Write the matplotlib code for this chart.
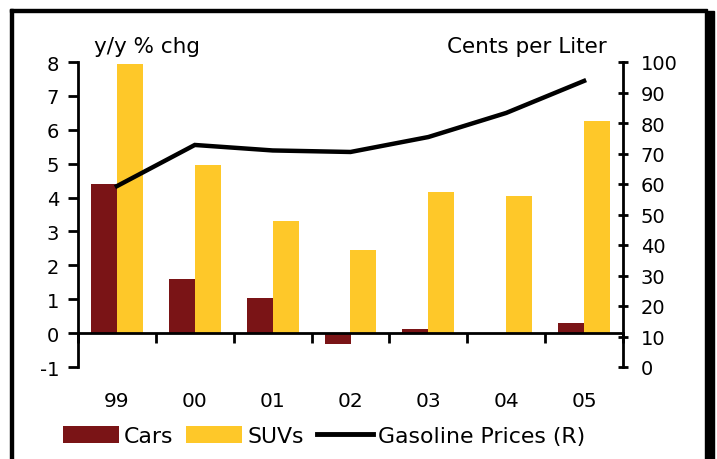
import matplotlib
matplotlib.use("Agg")
import matplotlib.pyplot as plt
from matplotlib.patches import Rectangle
from matplotlib.lines import Line2D
from matplotlib.patches import Patch
import numpy as np

years = ['99', '00', '01', '02', '03', '04', '05']
cars = [4.4, 1.6, 1.05, -0.33, 0.13, 0.0, 0.3]
suvs = [7.95, 4.95, 3.3, 2.45, 4.15, 4.05, 6.25]
gas = [59.3, 72.8, 71.0, 70.5, 75.4, 83.3, 93.8]
left_ticks = list(range(-1, 9))
right_ticks = list(range(0, 101, 10))

CAR_C = '#7A1416'
SUV_C = '#FEC829'

plt.rcParams['font.family'] = ['DejaVu Sans']
plt.rcParams['axes.unicode_minus'] = False
W, H = 717, 460
fig = plt.figure(figsize=(W / 100, H / 100), dpi=100)
ax = fig.add_axes([78 / W, 1 - 368 / H, (623 - 78) / W, (368 - 63) / H])
ax2 = ax.twinx()

x = np.arange(len(years)) + 0.5
bw = 1 / 3
ax.bar(x - bw / 2, cars, width=bw, color=CAR_C, zorder=2)
ax.bar(x + bw / 2, suvs, width=bw, color=SUV_C, zorder=2)
ax2.plot(x, gas, color='black', lw=3.2, solid_joinstyle='miter', zorder=3)

ax.set_xlim(0, len(years))
ax.set_ylim(-1, 8)
ax2.set_ylim(0, 100)

for s in ['top', 'right']:
    ax.spines[s].set_visible(False)
ax.spines['bottom'].set_position(('data', 0))
for s in ['top', 'left', 'bottom']:
    ax2.spines[s].set_visible(False)
for sp in [ax.spines['left'], ax.spines['bottom'], ax2.spines['right']]:
    sp.set_linewidth(2)

TICK_FS = 14
TEXT_FS = 15.5

ax.set_yticks(left_ticks)
ax.tick_params(axis='y', direction='out', length=7, width=2, pad=6.5, labelsize=TICK_FS)
ax2.set_yticks(right_ticks)
ax2.tick_params(axis='y', direction='inout', length=6.5, width=2, pad=9.5, labelsize=TICK_FS)

ax.set_xticks(x)
ax.set_xticklabels(years)
ax.set_xticks(np.arange(len(years) + 1), minor=True)
ax.tick_params(axis='x', which='major', length=0, pad=42, labelsize=TICK_FS + 0.5)
ax.tick_params(axis='x', which='minor', direction='out', length=7, width=2)

fig.text(94 / W, 1 - 47 / H, 'y/y % chg', fontsize=TEXT_FS, ha='left', va='center')
fig.text(607 / W, 1 - 47 / H, 'Cents per Liter', fontsize=TEXT_FS, ha='right', va='center')

handles = [Patch(facecolor=CAR_C, label='Cars'),
           Patch(facecolor=SUV_C, label='SUVs'),
           Line2D([], [], color='black', lw=3.5, label='Gasoline Prices (R)')]
fig.legend(handles=handles, loc='center', bbox_to_anchor=(324 / W, 1 - 437 / H),
           ncol=3, frameon=False, fontsize=TEXT_FS + 0.3, handlelength=2.55, handleheight=0.8,
           handletextpad=0.22, columnspacing=0.6, borderaxespad=0, borderpad=0)

# outer frame
fig.patches.append(Rectangle((10 / W, 1 - 13 / H), (707 - 10) / W, 3 / H,
                             transform=fig.transFigure, color='black', zorder=10))
fig.patches.append(Rectangle((10 / W, 0), 3 / W, 1 - 10 / H,
                             transform=fig.transFigure, color='black', zorder=10))
fig.patches.append(Rectangle((705 / W, 0), 9 / W, 1 - 12 / H,
                             transform=fig.transFigure, color='black', zorder=10))

fig.savefig('out.png', dpi=100)
